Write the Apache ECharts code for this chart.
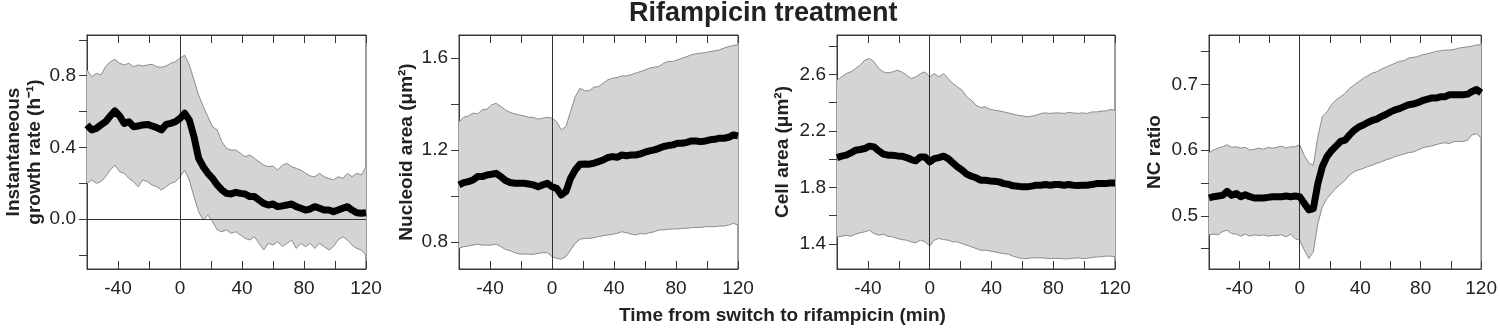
<!DOCTYPE html>
<html>
<head>
<meta charset="utf-8">
<title>Rifampicin treatment</title>
<script src="https://cdn.jsdelivr.net/npm/echarts@6/dist/echarts.min.js"></script>
<style>
  html, body { margin: 0; padding: 0; background: #fff; }
  #main { width: 1500px; height: 329px; }
</style>
</head>
<body>
<div id="main"></div>
<script>
// time from switch to rifampicin (min)
var time = [-60, -57, -54, -51, -48, -45, -42, -39, -36, -33, -30, -27, -24, -21, -18, -15, -12, -9, -6, -3,
  0, 3, 6, 9, 12, 15, 18, 21, 24, 27, 30, 33, 36, 39, 42, 45, 48, 51, 54, 57, 60,
  63, 66, 69, 72, 75, 78, 81, 84, 87, 90, 93, 96, 99, 102, 105, 108, 111, 114, 117, 120]

var xTicks = [-40, -20, 0, 20, 40, 60, 80, 100, 120]
var xLabels = [-40, 0, 40, 80, 120]

// instantaneous growth rate (h-1)
var growthMean = [0.525, 0.497, 0.506, 0.525, 0.543, 0.575, 0.603, 0.575, 0.534, 0.543, 0.515, 0.519, 0.525, 0.528, 0.519, 0.51, 0.497, 0.528, 0.534, 0.543, 0.562,
  0.59, 0.553, 0.46, 0.339, 0.292, 0.255, 0.227, 0.19, 0.162, 0.143,
  0.14, 0.149, 0.143, 0.14, 0.125, 0.125, 0.106, 0.087, 0.078, 0.084,
  0.069, 0.073, 0.078, 0.084, 0.069, 0.06, 0.05, 0.056, 0.069, 0.06,
  0.05, 0.05, 0.041, 0.05, 0.06, 0.069, 0.05, 0.035, 0.032, 0.035]
var growthUpper = [0.832, 0.794, 0.813, 0.804, 0.85, 0.878, 0.891, 0.869, 0.86, 0.869, 0.85, 0.86, 0.854, 0.86, 0.863, 0.85, 0.847, 0.854, 0.869, 0.878, 0.897,
  0.915, 0.86, 0.776, 0.692, 0.627, 0.571, 0.515, 0.497, 0.432, 0.394,
  0.385, 0.385, 0.367, 0.348, 0.357, 0.339, 0.32, 0.301, 0.292, 0.296,
  0.273, 0.301, 0.31, 0.292, 0.283, 0.273, 0.255, 0.24, 0.236, 0.255,
  0.236, 0.227, 0.218, 0.236, 0.227, 0.255, 0.236, 0.255, 0.246, 0.292]
var growthLower = [0.199, 0.218, 0.199, 0.208, 0.236, 0.273, 0.301, 0.264, 0.255, 0.227, 0.208, 0.18, 0.218, 0.208, 0.19, 0.18, 0.162, 0.18, 0.199, 0.208, 0.236,
  0.273, 0.218, 0.125, 0.041, -0.006, 0.022, -0.015, -0.061, -0.071, -0.061,
  -0.08, -0.071, -0.089, -0.108, -0.117, -0.099, -0.136, -0.173, -0.136, -0.145,
  -0.127, -0.154, -0.136, -0.117, -0.164, -0.136, -0.154, -0.136, -0.164, -0.136,
  -0.154, -0.173, -0.154, -0.117, -0.099, -0.117, -0.145, -0.164, -0.173, -0.201]
var growthTicks = [-0.2, 0, 0.2, 0.4, 0.6, 0.8, 1.0]
var growthLabels = [0, 0.4, 0.8]

// nucleoid area (um2)
var nucMean = [1.048, 1.058, 1.062, 1.069, 1.084, 1.084, 1.091, 1.094, 1.098, 1.084, 1.067, 1.058, 1.055, 1.055, 1.055, 1.052, 1.048, 1.04, 1.048, 1.055, 1.04,
  1.033, 1.004, 1.019, 1.077, 1.113, 1.138, 1.139, 1.138, 1.142, 1.149,
  1.156, 1.167, 1.171, 1.168, 1.178, 1.175, 1.178, 1.178, 1.183, 1.19,
  1.196, 1.2, 1.207, 1.215, 1.219, 1.222, 1.229, 1.229, 1.233, 1.239,
  1.239, 1.236, 1.239, 1.244, 1.246, 1.251, 1.251, 1.255, 1.265, 1.261]
var nucUpper = [1.323, 1.342, 1.348, 1.36, 1.357, 1.374, 1.377, 1.396, 1.403, 1.389, 1.374, 1.363, 1.357, 1.352, 1.348, 1.342, 1.342, 1.334, 1.338, 1.342, 1.338,
  1.323, 1.287, 1.302, 1.367, 1.432, 1.468, 1.457, 1.458, 1.473, 1.476,
  1.49, 1.505, 1.512, 1.515, 1.522, 1.522, 1.527, 1.534, 1.541, 1.548,
  1.556, 1.56, 1.563, 1.577, 1.585, 1.585, 1.592, 1.599, 1.606, 1.614,
  1.618, 1.621, 1.624, 1.628, 1.631, 1.635, 1.643, 1.65, 1.654, 1.657]
var nucLower = [0.772, 0.779, 0.782, 0.786, 0.79, 0.786, 0.786, 0.786, 0.79, 0.779, 0.767, 0.762, 0.753, 0.747, 0.747, 0.746, 0.746, 0.75, 0.753, 0.753, 0.736,
  0.728, 0.725, 0.736, 0.765, 0.794, 0.811, 0.815, 0.815, 0.818, 0.823,
  0.827, 0.83, 0.833, 0.837, 0.844, 0.84, 0.834, 0.83, 0.837, 0.834,
  0.84, 0.844, 0.852, 0.852, 0.855, 0.856, 0.856, 0.859, 0.859, 0.862,
  0.863, 0.863, 0.866, 0.866, 0.866, 0.869, 0.869, 0.873, 0.881, 0.873]
var nucTicks = [0.8, 1.0, 1.2, 1.4, 1.6]
var nucLabels = [0.8, 1.2, 1.6]

// cell area (um2)
var cellMean = [2.011, 2.021, 2.028, 2.044, 2.063, 2.068, 2.075, 2.092, 2.087, 2.059, 2.035, 2.028, 2.028, 2.023, 2.021, 2.011, 1.997, 1.988, 2.016, 2.016, 1.981,
  2.004, 2.011, 2.021, 2.004, 1.974, 1.945, 1.922, 1.894, 1.879, 1.868,
  1.851, 1.851, 1.846, 1.844, 1.839, 1.827, 1.823, 1.811, 1.809, 1.804,
  1.804, 1.809, 1.816, 1.816, 1.82, 1.816, 1.82, 1.82, 1.816, 1.82,
  1.816, 1.813, 1.816, 1.816, 1.82, 1.827, 1.827, 1.827, 1.832, 1.832]
var cellUpper = [2.558, 2.582, 2.605, 2.617, 2.641, 2.664, 2.7, 2.712, 2.688, 2.641, 2.617, 2.61, 2.617, 2.629, 2.617, 2.594, 2.57, 2.582, 2.605, 2.617, 2.582,
  2.605, 2.582, 2.605, 2.57, 2.535, 2.511, 2.488, 2.44, 2.417, 2.382,
  2.365, 2.37, 2.353, 2.346, 2.341, 2.334, 2.327, 2.318, 2.311, 2.306,
  2.299, 2.304, 2.311, 2.323, 2.327, 2.323, 2.327, 2.327, 2.323, 2.33,
  2.327, 2.323, 2.327, 2.323, 2.334, 2.334, 2.339, 2.341, 2.351, 2.346]
var cellLower = [1.45, 1.455, 1.462, 1.455, 1.469, 1.479, 1.486, 1.497, 1.474, 1.462, 1.469, 1.455, 1.45, 1.439, 1.431, 1.427, 1.415, 1.408, 1.427, 1.415, 1.386,
  1.427, 1.439, 1.431, 1.427, 1.415, 1.415, 1.403, 1.391, 1.38, 1.368,
  1.356, 1.356, 1.351, 1.344, 1.337, 1.332, 1.328, 1.314, 1.304, 1.297,
  1.297, 1.302, 1.302, 1.302, 1.299, 1.297, 1.299, 1.297, 1.295, 1.295,
  1.299, 1.302, 1.297, 1.299, 1.304, 1.309, 1.309, 1.314, 1.314, 1.309]
var cellTicks = [1.4, 1.6, 1.8, 2.0, 2.2, 2.4, 2.6, 2.8]
var cellLabels = [1.4, 1.8, 2.2, 2.6]

// NC ratio
var ncMean = [0.527, 0.529, 0.53, 0.531, 0.537, 0.531, 0.534, 0.529, 0.532, 0.529, 0.527, 0.527, 0.527, 0.528, 0.529, 0.529, 0.529, 0.53, 0.529, 0.53, 0.529,
  0.519, 0.509, 0.511, 0.549, 0.575, 0.59, 0.599, 0.606, 0.613, 0.615,
  0.623, 0.63, 0.635, 0.638, 0.642, 0.645, 0.647, 0.651, 0.654, 0.658,
  0.661, 0.663, 0.666, 0.669, 0.67, 0.672, 0.675, 0.677, 0.679, 0.679,
  0.681, 0.681, 0.684, 0.684, 0.684, 0.684, 0.685, 0.689, 0.692, 0.687]
var ncUpper = [0.596, 0.6, 0.603, 0.605, 0.608, 0.604, 0.605, 0.603, 0.604, 0.6, 0.601, 0.603, 0.601, 0.604, 0.603, 0.604, 0.606, 0.603, 0.605, 0.605, 0.608,
  0.592, 0.58, 0.577, 0.62, 0.651, 0.658, 0.669, 0.676, 0.681, 0.686,
  0.694, 0.699, 0.704, 0.709, 0.713, 0.717, 0.719, 0.723, 0.726, 0.729,
  0.732, 0.735, 0.736, 0.74, 0.741, 0.742, 0.745, 0.746, 0.748, 0.75,
  0.751, 0.752, 0.752, 0.753, 0.755, 0.756, 0.757, 0.758, 0.76, 0.76]
var ncLower = [0.471, 0.472, 0.471, 0.476, 0.478, 0.473, 0.472, 0.469, 0.472, 0.469, 0.471, 0.47, 0.471, 0.469, 0.47, 0.47, 0.471, 0.468, 0.472, 0.465, 0.463,
  0.448, 0.435, 0.445, 0.488, 0.514, 0.526, 0.534, 0.542, 0.548, 0.554,
  0.562, 0.567, 0.57, 0.572, 0.575, 0.577, 0.58, 0.582, 0.585, 0.587,
  0.59, 0.592, 0.594, 0.596, 0.597, 0.6, 0.603, 0.605, 0.606, 0.608,
  0.61, 0.611, 0.61, 0.613, 0.613, 0.613, 0.615, 0.623, 0.625, 0.618]
var ncTicks = [0.45, 0.5, 0.55, 0.6, 0.65, 0.7, 0.75]
var ncLabels = [0.5, 0.6, 0.7]

var panels = [
  { name: 'Instantaneous\ngrowth rate (h⁻¹)', mean: growthMean, upper: growthUpper, lower: growthLower, min: -0.279, max: 1.027, ticks: growthTicks, labels: growthLabels, zero: true },
  { name: 'Nucleoid area (μm²)', mean: nucMean, upper: nucUpper, lower: nucLower, min: 0.682, max: 1.70, ticks: nucTicks, labels: nucLabels },
  { name: 'Cell area (μm²)', mean: cellMean, upper: cellUpper, lower: cellLower, min: 1.223, max: 2.878, ticks: cellTicks, labels: cellLabels },
  { name: 'NC ratio', mean: ncMean, upper: ncUpper, lower: ncLower, min: 0.419, max: 0.775, ticks: ncTicks, labels: ncLabels }
]

var font = '"Liberation Sans", Arial, Helvetica, sans-serif'
var axisColor = '#3a3a3a'
var textColor = '#222'
var bandFill = '#d4d4d6'
var bandEdge = '#8c8c8c'
var gridLeft = [87, 459, 837, 1209]
var gridWidth = [279, 279, 278, 278]
var nameGap = [40, 42, 44, 44]

function pairs(ys) {
  return time.map(function (t, k) { return [t, ys[k]] })
}

// one polygon between the lower and upper curves, placed with the axes' scales
function bandRenderer(p) {
  return function (params, api) {
    if (params.dataIndex !== 0) return
    var top = [], bottom = []
    for (var k = 0; k < time.length; k++) {
      top.push(api.coord([time[k], p.upper[k]]))
      bottom.unshift(api.coord([time[k], p.lower[k]]))
    }
    return {
      type: 'polygon',
      shape: { points: top.concat(bottom) },
      style: { fill: bandFill, stroke: null }
    }
  }
}

var grids = [], xAxes = [], yAxes = [], series = []
panels.forEach(function (p, i) {
  grids.push({
    left: gridLeft[i], top: 35, width: gridWidth[i], height: 234,
    show: true, borderColor: axisColor, borderWidth: 1
  })
  // bottom axis with labels, top axis with ticks only
  ;['bottom', 'top'].forEach(function (pos) {
    xAxes.push({
      gridIndex: i, type: 'value', position: pos, min: -60, max: 120,
      axisLine: { show: true, onZero: false, lineStyle: { color: axisColor, width: 1 } },
      axisTick: { show: true, inside: true, length: 8, customValues: xTicks, lineStyle: { color: axisColor } },
      axisLabel: { show: pos === 'bottom', customValues: xLabels, fontSize: 19, color: textColor, fontFamily: font, margin: 10 },
      splitLine: { show: false }
    })
  })
  yAxes.push({
    gridIndex: i, type: 'value', min: p.min, max: p.max,
    axisLine: { show: true, onZero: false, lineStyle: { color: axisColor, width: 1 } },
    axisTick: { show: true, inside: false, length: 8, customValues: p.ticks, lineStyle: { color: axisColor } },
    axisLabel: {
      customValues: p.labels, fontSize: 19, color: textColor, fontFamily: font, margin: 11,
      formatter: function (v) { return v.toFixed(1) }
    },
    splitLine: { show: false },
    name: p.name, nameLocation: 'middle', nameRotate: 90, nameGap: nameGap[i],
    nameTextStyle: { fontSize: 19, fontWeight: 'bold', color: textColor, fontFamily: font, lineHeight: 21 }
  })

  var marks = [{ xAxis: 0 }]
  if (p.zero) marks.push({ yAxis: 0 })

  series.push({
    type: 'custom', xAxisIndex: 2 * i, yAxisIndex: i, silent: true, z: 1,
    data: time.map(function (t, k) { return [t, p.lower[k], p.upper[k]] }),
    encode: { x: 0, y: [1, 2] },
    renderItem: bandRenderer(p)
  })
  series.push({
    type: 'line', xAxisIndex: 2 * i, yAxisIndex: i, silent: true, z: 2,
    data: pairs(p.lower), symbol: 'none', lineStyle: { color: bandEdge, width: 1 }
  })
  series.push({
    type: 'line', xAxisIndex: 2 * i, yAxisIndex: i, silent: true, z: 2,
    data: pairs(p.upper), symbol: 'none', lineStyle: { color: bandEdge, width: 1 },
    markLine: {
      silent: true, symbol: 'none', label: { show: false },
      lineStyle: { color: '#333', width: 1, type: 'solid' },
      data: marks
    }
  })
  series.push({
    type: 'line', xAxisIndex: 2 * i, yAxisIndex: i, silent: true, z: 5,
    data: pairs(p.mean), symbol: 'none',
    lineStyle: { color: '#000', width: 7, join: 'round' }
  })
})

var chart = echarts.init(document.getElementById('main'))
var option = {
  animation: false,
  backgroundColor: '#fff',
  title: [
    {
      text: 'Rifampicin treatment', left: 629, top: 0, padding: 0,
      textStyle: { fontSize: 27, fontWeight: 'bold', color: textColor, fontFamily: font }
    },
    {
      text: 'Time from switch to rifampicin (min)', left: 619, top: 306, padding: 0,
      textStyle: { fontSize: 19, fontWeight: 'bold', color: textColor, fontFamily: font }
    }
  ],
  grid: grids,
  xAxis: xAxes,
  yAxis: yAxes,
  series: series
}
chart.setOption(option)

window.addEventListener('resize', function () {
  chart.resize()
})
</script>
</body>
</html>
